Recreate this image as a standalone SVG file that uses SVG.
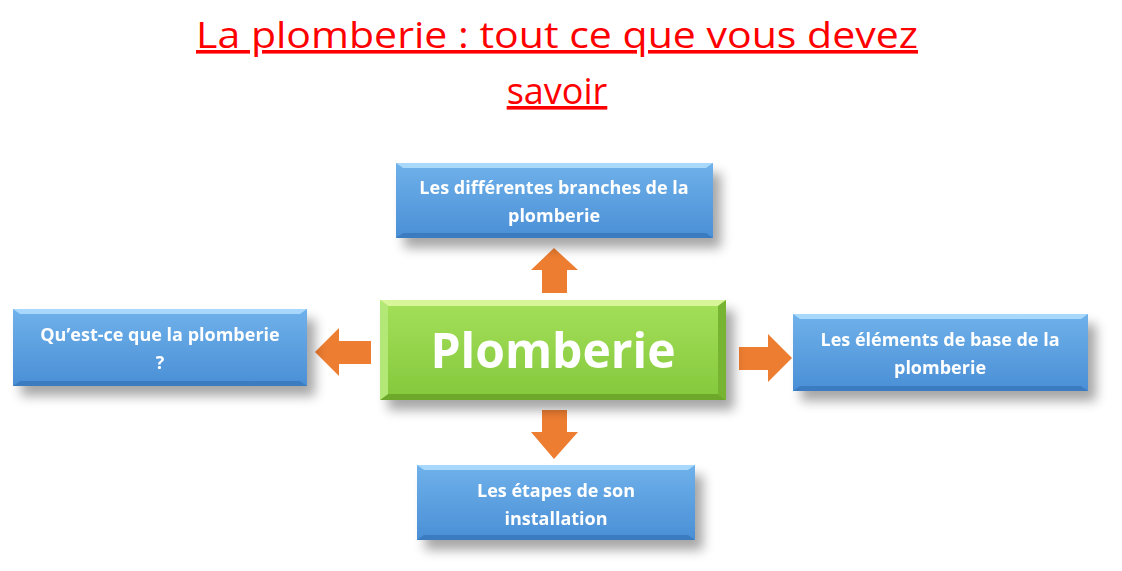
<svg xmlns="http://www.w3.org/2000/svg" width="1122" height="571" viewBox="0 0 1122 571">
<style>
.t{font-family:"Open Sans","Liberation Sans",sans-serif;font-weight:bold;fill:#fff;text-anchor:middle;font-size:18px}
.title{font-family:"Open Sans","Liberation Sans",sans-serif;fill:#f00;font-size:36px;text-anchor:middle;text-decoration:underline}
.arr{fill:#ed7d31}
</style>
<defs>
<linearGradient id="gb" x1="0" y1="0" x2="0" y2="1"><stop offset="0" stop-color="#6fb1ea"/><stop offset="1" stop-color="#4a8fd6"/></linearGradient>
<linearGradient id="gg" x1="0" y1="0" x2="0" y2="1"><stop offset="0" stop-color="#a4e05a"/><stop offset="1" stop-color="#84c83c"/></linearGradient>
<filter id="sh" x="-10%" y="-20%" width="125%" height="160%"><feGaussianBlur in="SourceAlpha" stdDeviation="6"/><feOffset dx="8" dy="10"/><feComponentTransfer><feFuncA type="linear" slope="0.35"/></feComponentTransfer><feMerge><feMergeNode/><feMergeNode in="SourceGraphic"/></feMerge></filter>
</defs>
<rect width="1122" height="571" fill="#fff"/>
<text class="title" x="557" y="48" textLength="722" lengthAdjust="spacingAndGlyphs">La plomberie : tout ce que vous devez</text>
<text class="title" x="557" y="104">savoir</text>
<g id="connectors">
<polygon class="arr" points="531,270 554,248 578,270 567,270 567,293 542,293 542,270"/>
<polygon class="arr" points="531,432 542,432 542,410 567,410 567,432 578,432 554,459"/>
<polygon class="arr" points="315,352 339,328 339,341 371,341 371,364 339,364 339,376"/>
<polygon class="arr" points="792,358 768,334 768,347 739,347 739,370 768,370 768,382"/>
</g>
<g id="center" filter="url(#sh)">
<rect x="380" y="300" width="346" height="100" fill="url(#gg)"/>
<polygon points="380,300 726,300 718,306 388,306" fill="#d8f59a"/>
<polygon points="380,400 726,400 718,394 388,394" fill="#6da82c"/>
<polygon points="380,300 388,306 388,394 380,400" fill="#b4e876"/>
<polygon points="726,300 718,306 718,394 726,400" fill="#76b432"/>
<text class="t" x="553" y="368" font-size="48" style="font-size:48px">Plomberie</text>
</g>
<g id="top" filter="url(#sh)">
<rect x="396" y="163" width="317" height="75" fill="url(#gb)"/>
<polygon points="396,163 713,163 706,168 403,168" fill="#a8d8fb"/>
<polygon points="396,238 713,238 706,233 403,233" fill="#3a7bc0"/>
<text class="t" x="554" y="194">Les différentes branches de la</text>
<text class="t" x="554" y="222">plomberie</text>
</g>
<g id="left" filter="url(#sh)">
<rect x="13" y="309" width="294" height="77" fill="url(#gb)"/>
<polygon points="13,309 307,309 300,314 20,314" fill="#a8d8fb"/>
<polygon points="13,386 307,386 300,381 20,381" fill="#3a7bc0"/>
<text class="t" x="160" y="341">Qu’est-ce que la plomberie</text>
<text class="t" x="160" y="369">?</text>
</g>
<g id="right" filter="url(#sh)">
<rect x="793" y="314" width="295" height="77" fill="url(#gb)"/>
<polygon points="793,314 1088,314 1081,319 800,319" fill="#a8d8fb"/>
<polygon points="793,391 1088,391 1081,386 800,386" fill="#3a7bc0"/>
<text class="t" x="940" y="346">Les éléments de base de la</text>
<text class="t" x="940" y="374">plomberie</text>
</g>
<g id="bottom" filter="url(#sh)">
<rect x="417" y="465" width="278" height="75" fill="url(#gb)"/>
<polygon points="417,465 695,465 688,470 424,470" fill="#a8d8fb"/>
<polygon points="417,540 695,540 688,535 424,535" fill="#3a7bc0"/>
<text class="t" x="556" y="497">Les étapes de son</text>
<text class="t" x="556" y="525">installation</text>
</g>
</svg>
